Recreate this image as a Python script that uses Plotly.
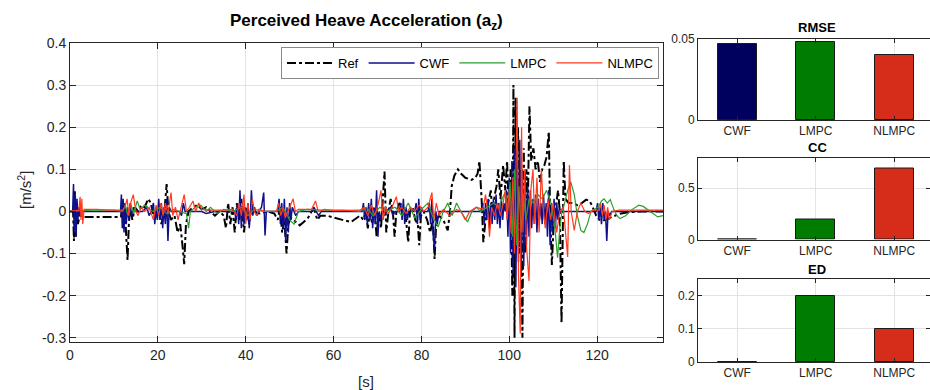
import plotly.graph_objects as go

# ---------------- data ----------------
ref_t = [0.0,0.7,0.9,1.1,1.3,1.5,1.8,2.2,3.0,6.0,9.0,11.6,11.9,12.2,12.5,12.8,13.1,13.4,13.7,14.2,14.8,15.5,16.2,17.0,17.8,18.4,19.0,19.6,20.2,20.8,21.5,22.0,22.4,23.0,23.8,24.5,25.1,25.7,26.0,26.4,27.0,28.0,29.0,30.0,31.0,32.0,33.0,34.0,35.0,35.5,36.0,36.5,37.0,37.5,38.0,38.5,39.0,39.6,40.2,40.8,41.4,42.0,43.0,45.0,46.5,47.3,47.8,48.3,48.8,49.3,49.7,50.3,51.3,52.3,53.2,54.2,55.0,55.6,56.3,57.0,58.5,60.0,62.0,64.0,65.2,66.0,66.8,67.3,67.8,68.3,68.8,69.3,69.8,70.3,70.8,71.2,71.6,72.0,72.5,73.0,73.5,73.9,74.3,75.0,75.8,76.5,77.0,77.4,78.0,78.6,79.2,79.5,79.9,80.5,81.3,82.0,82.6,83.0,83.4,84.0,85.0,86.0,86.5,86.9,87.5,88.3,89.0,90.0,91.4,92.3,92.8,93.2,93.7,94.1,94.6,95.2,95.8,96.2,96.7,97.1,97.5,98.0,98.6,99.1,99.5,99.9,100.3,100.7,100.95,101.2,101.45,101.7,102.0,102.3,102.6,103.0,103.3,103.6,103.9,104.2,104.6,105.0,105.5,106.0,106.5,107.0,107.5,108.0,108.5,109.0,109.3,109.7,110.1,110.6,111.1,111.5,111.9,112.4,112.8,113.5,114.5,115.5,116.5,117.5,118.3,119.0,119.8,120.5,121.3,122.3,123.5,125.0,127.0,130.0,135.0]
ref_v = [0.0,0.0,-0.07,0.05,-0.06,0.02,-0.03,-0.01,-0.013,-0.013,-0.013,-0.013,0.02,-0.04,0.0,-0.08,-0.115,-0.03,0.01,-0.02,0.01,0.0,0.015,0.01,0.03,0.02,-0.01,-0.02,0.0,-0.03,0.0,0.065,0.0,-0.02,-0.01,-0.05,-0.03,-0.09,-0.125,-0.03,0.0,0.01,0.015,0.005,0.01,0.0,-0.01,0.0,-0.01,-0.04,0.02,-0.03,0.01,-0.05,0.02,-0.02,0.03,-0.05,0.01,-0.03,0.02,0.0,-0.005,0.0,-0.005,-0.02,0.01,-0.05,-0.02,-0.1,-0.03,-0.015,-0.025,-0.033,-0.025,-0.015,0.0,0.005,-0.02,-0.01,-0.01,-0.015,-0.02,-0.025,-0.015,-0.01,-0.02,0.0,-0.04,0.0,-0.03,0.01,-0.06,0.0,-0.04,0.02,0.095,-0.05,0.0,0.03,0.0,-0.06,0.0,0.02,0.01,-0.02,-0.073,0.0,0.01,-0.02,-0.03,-0.08,-0.01,0.0,-0.02,-0.05,-0.02,-0.113,-0.02,-0.01,-0.02,-0.045,0.0,0.06,0.085,0.1,0.09,0.08,0.075,0.08,0.09,0.12,0.03,-0.073,-0.02,0.02,0.05,-0.01,0.04,0.06,0.1,0.03,0.11,0.05,0.12,0.0,0.1,-0.2,0.3,-0.3,0.27,0.0,0.2,-0.1,0.1,-0.3,0.15,-0.1,0.1,0.0,0.25,0.12,0.15,0.1,0.12,0.07,0.1,0.11,0.13,0.19,0.0,-0.127,-0.03,0.01,0.05,0.0,-0.265,0.12,0.03,0.02,0.02,0.015,0.02,0.028,0.025,0.01,-0.01,-0.02,-0.022,-0.018,-0.012,-0.006,-0.002,0.0,0.0]

cwf_t = [0.0,0.6,0.8,1.0,1.2,1.4,1.6,1.8,2.0,2.3,2.6,11.5,11.7,11.9,12.1,12.3,12.5,12.8,13.1,13.4,13.7,14.0,14.5,15.0,16.5,17.5,18.0,18.5,19.0,19.3,19.6,19.9,20.2,20.5,20.8,21.1,21.4,21.7,22.0,22.3,22.6,23.0,25.0,25.4,25.8,26.2,30.0,31.0,33.0,37.5,37.8,38.1,38.4,38.7,39.0,39.3,39.6,39.9,40.2,40.5,40.8,41.1,41.3,41.6,42.0,42.5,43.0,43.6,44.1,44.4,44.7,45.5,47.3,47.6,47.9,48.2,48.5,48.8,49.1,49.4,49.7,50.0,50.3,50.6,51.0,51.4,52.0,55.0,55.5,56.0,56.6,57.2,66.5,66.8,67.1,67.4,67.7,68.0,68.3,68.6,68.9,69.2,69.5,69.8,70.1,70.4,70.8,71.2,71.6,72.0,73.0,73.5,74.0,75.0,75.3,75.6,75.9,76.2,76.5,76.8,77.1,78.5,78.8,79.1,79.4,79.7,80.0,80.4,81.5,81.8,82.1,82.4,82.7,83.0,83.3,83.6,84.0,93.5,94.0,94.3,94.6,94.9,95.2,95.5,95.8,96.1,96.4,96.7,97.0,97.3,97.6,97.9,98.2,98.5,98.8,99.1,99.4,99.7,100.0,100.3,100.6,100.9,101.2,101.5,101.8,102.1,102.4,102.7,103.0,103.3,103.6,103.9,104.2,104.5,104.8,105.1,105.4,105.7,106.0,106.3,106.6,106.9,107.2,107.5,107.8,108.1,108.4,108.7,109.0,109.3,109.6,109.9,110.2,110.5,110.8,111.1,111.4,111.8,119.8,120.1,120.4,120.7,121.0,121.3,121.6,121.9,122.2,122.5,122.9,123.3,135.0]
cwf_v = [0.0,0.0,0.065,-0.05,0.04,-0.06,0.03,-0.02,0.01,-0.01,0.0,0.0,0.04,-0.04,0.03,-0.05,0.02,-0.03,0.01,-0.02,0.02,-0.01,0.01,0.0,0.0,0.01,-0.01,0.0,0.02,-0.03,0.01,-0.02,0.03,-0.02,0.02,-0.04,0.01,-0.03,0.03,-0.07,0.01,0.0,0.0,-0.01,0.02,0.0,0.0,-0.005,0.0,0.0,-0.02,0.02,-0.03,0.05,-0.04,0.02,-0.03,0.01,-0.02,0.02,-0.04,0.0,0.05,-0.01,0.01,-0.01,0.0,0.01,0.045,-0.057,0.0,0.0,0.0,0.03,-0.03,0.02,-0.04,0.03,-0.07,0.01,-0.05,0.02,-0.02,0.01,0.0,-0.01,0.0,0.0,0.01,0.0,-0.01,0.0,0.0,0.02,-0.02,0.01,-0.03,0.02,-0.02,0.03,-0.04,0.01,-0.03,0.05,-0.06,0.0,-0.02,0.01,-0.01,0.0,0.01,-0.01,0.0,0.0,0.02,-0.02,0.03,-0.03,0.01,-0.02,0.0,0.0,0.02,-0.03,0.03,-0.02,0.01,0.0,0.0,0.02,-0.03,0.03,-0.06,-0.09,0.0,-0.03,0.0,0.0,0.02,-0.03,0.02,-0.02,0.03,-0.04,0.02,-0.03,0.03,-0.02,0.04,-0.03,0.02,-0.04,0.03,-0.02,0.02,0.0,0.05,-0.06,0.08,-0.1,0.12,-0.15,0.15,-0.18,0.13,-0.12,0.17,-0.15,0.1,-0.13,0.09,-0.08,0.06,-0.06,0.05,-0.04,0.03,-0.03,0.04,-0.05,0.03,-0.02,0.02,-0.03,0.04,-0.03,0.02,-0.06,0.05,-0.08,0.02,-0.05,0.03,-0.04,0.02,-0.02,0.01,0.0,0.0,0.02,-0.02,0.01,-0.03,0.02,-0.02,0.0,-0.07,0.0,-0.01,0.0,0.0]

lmpc_t = [0.0,5.0,10.0,12.0,12.6,13.2,13.8,14.5,15.3,16.0,17.0,18.0,19.0,20.5,22.0,23.5,25.0,26.5,27.0,27.4,28.5,29.8,31.0,32.0,33.5,35.0,37.0,39.0,40.5,42.0,44.0,47.0,48.5,50.0,51.0,52.0,54.0,57.0,62.0,66.0,67.5,69.0,70.5,72.0,74.0,75.5,77.0,78.5,80.0,81.5,82.5,83.8,85.0,86.0,87.0,88.0,89.0,90.5,91.5,92.5,93.5,95.0,96.5,97.5,98.5,99.1,99.6,100.2,100.7,101.2,101.7,102.2,102.7,103.2,103.8,104.5,105.5,106.5,107.5,108.5,109.5,110.3,111.0,111.5,112.0,112.6,113.3,114.0,114.8,115.5,116.3,117.0,117.8,118.6,119.4,120.2,121.0,121.6,122.3,123.0,123.8,124.5,125.2,126.5,128.0,129.5,130.5,132.0,133.8,135.0]
lmpc_v = [0.0,0.003,0.003,0.0,0.015,-0.01,0.02,-0.005,0.025,0.005,0.015,0.005,0.0,0.01,-0.005,0.005,0.0,-0.005,-0.04,0.0,0.01,0.015,0.0,0.01,-0.005,0.005,0.0,0.01,-0.01,0.005,0.0,0.0,0.01,-0.02,-0.03,0.0,0.005,0.003,0.003,0.0,0.01,-0.01,0.01,0.0,0.01,-0.01,0.02,-0.015,0.005,0.02,-0.01,-0.037,0.0,0.02,-0.01,0.02,0.0,-0.025,0.0,0.01,0.0,0.01,0.02,0.01,0.035,0.046,0.0,0.07,-0.06,0.1,-0.08,0.06,-0.05,0.04,-0.02,0.03,0.02,0.04,0.03,0.05,0.02,-0.03,-0.11,-0.04,0.0,0.02,0.05,0.07,0.04,-0.01,-0.045,-0.05,-0.03,0.0,0.005,0.01,0.025,0.03,0.02,0.028,0.005,-0.01,-0.017,-0.01,0.005,0.015,0.012,0.0,-0.013,-0.01]

nlmpc_t = [0.0,2.0,2.3,2.5,2.7,2.9,3.2,6.0,9.0,12.0,12.5,13.0,13.4,13.8,14.4,15.0,15.5,16.2,17.0,18.0,19.0,19.6,20.2,20.7,21.2,21.7,22.3,23.0,23.4,24.0,24.6,25.3,26.0,26.5,27.2,28.0,28.6,29.3,30.0,32.0,35.0,37.0,38.0,38.5,39.0,39.6,40.0,40.5,41.0,41.5,42.0,42.5,43.0,44.5,47.0,47.5,48.0,48.5,49.0,50.0,50.8,51.3,52.0,55.0,55.9,56.5,58.0,60.0,66.0,67.0,67.8,68.6,69.4,70.2,70.8,71.3,71.8,72.5,73.3,74.3,74.8,75.5,76.5,77.5,78.5,79.5,80.5,81.5,82.4,82.8,83.4,84.0,85.0,86.5,88.0,89.0,90.0,91.0,92.5,94.0,94.6,95.1,95.5,96.0,96.6,97.3,98.0,98.6,99.1,99.5,100.0,100.4,100.8,101.2,101.5,101.8,102.1,102.5,102.8,103.1,103.5,103.9,104.5,104.9,105.4,105.8,106.3,106.8,107.3,107.8,108.2,108.8,109.4,110.0,110.8,111.5,112.3,113.3,113.7,114.1,114.8,115.5,116.3,117.2,118.0,119.0,120.5,120.8,121.2,121.6,122.0,122.4,122.8,123.4,125.0,135.0]
nlmpc_v = [0.0,0.003,0.035,-0.02,0.03,-0.03,0.005,0.005,0.003,0.003,0.01,0.03,-0.01,0.02,0.04,0.0,-0.01,0.01,0.0,0.01,-0.02,0.015,-0.01,0.02,-0.01,0.02,-0.005,0.045,-0.01,0.01,-0.02,0.01,0.04,0.0,0.01,0.025,0.0,0.02,0.005,0.003,0.003,0.005,-0.01,0.02,-0.01,0.04,-0.03,0.02,-0.02,0.03,0.0,-0.01,0.005,0.0,0.0,0.02,-0.01,0.01,-0.015,0.01,0.03,0.0,0.005,0.005,0.025,0.0,0.005,0.002,0.003,0.01,-0.01,0.015,-0.01,0.02,0.05,-0.02,0.01,-0.005,0.01,0.035,0.0,0.01,-0.005,0.01,0.0,0.015,0.0,0.01,0.045,-0.02,0.02,-0.01,0.005,-0.01,0.005,0.0,-0.02,0.0,0.01,0.005,0.04,0.0,-0.06,0.01,-0.01,0.02,-0.01,0.02,0.05,-0.02,0.05,-0.05,0.08,-0.1,0.1,0.27,-0.15,-0.29,0.2,-0.05,0.1,-0.08,-0.165,0.05,0.1,-0.03,0.08,-0.05,0.1,0.0,-0.04,0.03,-0.02,0.02,-0.05,0.0,0.01,-0.108,0.11,0.0,-0.045,0.0,0.02,0.0,-0.005,0.003,0.003,0.02,-0.01,0.015,-0.02,0.01,-0.02,0.0,0.003,0.003]

methods = ["CWF", "LMPC", "NLMPC"]
rmse = [0.047, 0.048, 0.040]
cc = [0.0, 0.20, 0.69]
ed = [0.0, 0.20, 0.10]

x_ticks = [0, 20, 40, 60, 80, 100, 120]
y_ticks = [-0.3, -0.2, -0.1, 0, 0.1, 0.2, 0.3, 0.4]
y_tick_text = ["-0.3", "-0.2", "-0.1", "0", "0.1", "0.2", "0.3", "0.4"]

# ---------------- styling ----------------
FONT = "Liberation Sans, Arial, sans-serif"
AX = "#262626"
GRID = "#e3e3e3"
line_cols = {"Ref": "black", "CWF": "#10108a", "LMPC": "#2ca02c", "NLMPC": "#ff3a1f"}
bar_cols = ["#00005f", "#007d00", "#d62d1a"]

fig = go.Figure()
fig.add_trace(go.Scatter(x=ref_t, y=ref_v, mode="lines", name="Ref",
                         line=dict(color=line_cols["Ref"], width=2, dash="dashdot")))
fig.add_trace(go.Scatter(x=cwf_t, y=cwf_v, mode="lines", name="CWF",
                         line=dict(color=line_cols["CWF"], width=1.5)))
fig.add_trace(go.Scatter(x=lmpc_t, y=lmpc_v, mode="lines", name="LMPC",
                         line=dict(color=line_cols["LMPC"], width=1.2)))
fig.add_trace(go.Scatter(x=nlmpc_t, y=nlmpc_v, mode="lines", name="NLMPC",
                         line=dict(color=line_cols["NLMPC"], width=1.2)))

pos = [1, 2, 3]
for vals, xa, ya in [(rmse, "x2", "y2"), (cc, "x3", "y3"), (ed, "x4", "y4")]:
    fig.add_trace(go.Bar(x=pos, y=vals, width=0.5, xaxis=xa, yaxis=ya, showlegend=False,
                         marker=dict(color=bar_cols, line=dict(color="#1a1a1a", width=1))))

W, H = 930, 390
def px(x):
    return x / W
def py(y):
    return (H - y) / H

common = dict(showline=True, linecolor=AX, linewidth=1, mirror="ticks", ticks="inside",
              tickcolor=AX, showgrid=True, gridcolor=GRID, zeroline=False, automargin=False,
              tickfont=dict(family=FONT, size=14, color=AX))

fig.update_layout(
    width=W, height=H, margin=dict(l=0, r=0, t=0, b=0, autoexpand=False),
    paper_bgcolor="white", plot_bgcolor="white",
    font=dict(family=FONT, color=AX),
    xaxis=dict(domain=[px(70), px(663)], range=[0, 135], tickvals=x_ticks, ticklen=6,
               anchor="y", **common),
    yaxis=dict(domain=[py(342), py(43)], range=[-0.31, 0.4], tickvals=y_ticks,
               ticktext=y_tick_text, ticklen=6, anchor="x", **common),
    legend=dict(orientation="h", x=px(659), xanchor="right", y=py(47), yanchor="top",
                bgcolor="white", bordercolor="#8a8a8a", borderwidth=1,
                font=dict(family=FONT, size=13, color="black"),
                itemwidth=46, tracegroupgap=0),
    bargap=0,
)

bar_x = dict(range=[0.5, 3.455], tickvals=pos, ticktext=methods, ticklen=4, **common)
small = dict(common)
small["tickfont"] = dict(family=FONT, size=12, color=AX)
bar_x.update(tickfont=dict(family=FONT, size=12, color=AX))
dom_x = [px(698), 1.0]
fig.update_layout(
    xaxis2=dict(domain=dom_x, anchor="y2", **bar_x),
    yaxis2=dict(domain=[py(120), py(39)], range=[0, 0.05], tickvals=[0, 0.05],
                ticktext=["0", "0.05"], ticklen=4, anchor="x2", **small),
    xaxis3=dict(domain=dom_x, anchor="y3", **bar_x),
    yaxis3=dict(domain=[py(239.5), py(157.5)], range=[0, 0.8], tickvals=[0, 0.5],
                ticktext=["0", "0.5"], ticklen=4, anchor="x3", **small),
    xaxis4=dict(domain=dom_x, anchor="y4", **bar_x),
    yaxis4=dict(domain=[py(362), py(279)], range=[0, 0.25], tickvals=[0, 0.1, 0.2],
                ticktext=["0", "0.1", "0.2"], ticklen=4, anchor="x4", **small),
)

ann = [
    dict(text="<b>Perceived Heave Acceleration (a<sub>z</sub>)</b>", x=px(366), y=py(22),
         font=dict(size=17, color="black")),
    dict(text="<b>RMSE</b>", x=px(817), y=py(28), font=dict(size=13, color="black")),
    dict(text="<b>CC</b>", x=px(817), y=py(147), font=dict(size=13, color="black")),
    dict(text="<b>ED</b>", x=px(817), y=py(269), font=dict(size=13, color="black")),
    dict(text="[s]", x=px(366), y=py(381), font=dict(size=15, color=AX)),
    dict(text="[m/s<sup>2</sup>]", x=px(24), y=py(190), textangle=-90,
         font=dict(size=15, color=AX)),
]
for a in ann:
    a.update(xref="paper", yref="paper", showarrow=False, xanchor="center", yanchor="middle")
    a["font"]["family"] = FONT
fig.update_layout(annotations=ann)

fig.write_html("out.html", config={"displayModeBar": False},
               post_script="document.body.style.margin='0px';document.body.style.overflow='hidden';")
